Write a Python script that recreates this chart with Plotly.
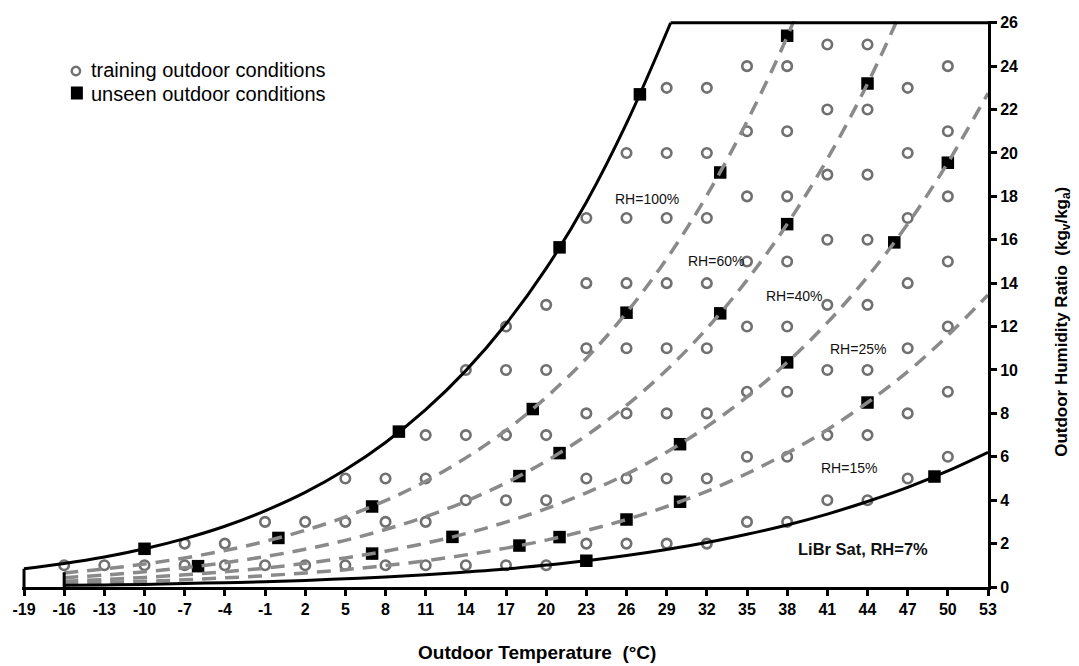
import plotly.graph_objects as go

# ---------------- data ----------------
# Envelope: saturation curve (RH=100%) and upper limit
t_sat = [-19, -16, -13, -10, -7, -4, -1, 2, 5, 8, 11, 14, 17, 20, 23, 26, 29.3]
w_sat = [0.84, 1.08, 1.38, 1.76, 2.23, 2.80, 3.51, 4.36, 5.40, 6.66, 8.17, 9.97,
         12.12, 14.68, 17.73, 21.36, 26.0]
t_top = [29.3, 53]
w_top = [26.0, 26.0]

# left-hand closing segments of the region
t_left = [-19, -19]
w_left = [0.0, 0.84]
t_left2 = [-16, -16]
w_left2 = [0.0, 0.68]

# iso-RH curves (sampled every 3 degC)
t_rh = [-16, -13, -10, -7, -4, -1, 2, 5, 8, 11, 14, 17, 20, 23, 26, 29, 32, 35,
        38, 41, 44, 47, 50, 53]
w_rh60 = [0.65, 0.83, 1.06, 1.34, 1.68, 2.10, 2.61, 3.23, 3.98, 4.87, 5.95, 7.22,
          8.74, 10.53, 12.64, 15.12, 18.04, 21.45, 25.36, 30.05]
w_rh40 = [0.43, 0.55, 0.70, 0.89, 1.12, 1.40, 1.74, 2.15, 2.65, 3.24, 3.95, 4.80,
          5.80, 6.98, 8.37, 10.00, 11.91, 14.14, 16.72, 19.72, 23.19, 27.2]
w_rh25 = [0.27, 0.34, 0.44, 0.56, 0.70, 0.87, 1.09, 1.34, 1.65, 2.02, 2.46, 2.99,
          3.61, 4.34, 5.20, 6.21, 7.39, 8.76, 10.35, 12.18, 14.29, 16.73, 19.55, 22.75]
w_rh15 = [0.16, 0.21, 0.26, 0.33, 0.42, 0.52, 0.65, 0.80, 0.99, 1.21, 1.48, 1.79,
          2.16, 2.60, 3.11, 3.71, 4.41, 5.23, 6.17, 7.25, 8.50, 9.92, 11.59, 13.46]
w_libr = [0.076, 0.097, 0.12, 0.16, 0.20, 0.24, 0.30, 0.38, 0.46, 0.56, 0.69, 0.83,
          1.01, 1.21, 1.45, 1.73, 2.05, 2.43, 2.86, 3.36, 3.94, 4.59, 5.35, 6.21]

# training outdoor conditions: humidity ratio -> temperatures
train_rows = {
    1: [-16, -13, -10, -7, -4, -1, 2, 5, 8, 11, 14, 17, 20],
    2: [-7, -4, 23, 26, 29, 32],
    3: [-1, 2, 5, 8, 11, 35, 38],
    4: [14, 17, 20, 41, 44],
    5: [5, 8, 11, 23, 26, 29, 32, 47],
    6: [35, 38, 50],
    7: [11, 14, 17, 20, 41, 44],
    8: [23, 26, 29, 32, 47],
    9: [35, 38, 50],
    10: [14, 17, 20, 41, 44],
    11: [23, 26, 29, 32, 47],
    12: [17, 35, 38, 50],
    13: [20, 41, 44],
    14: [23, 26, 29, 32, 47],
    15: [35, 38, 50],
    16: [41, 44],
    17: [23, 26, 29, 32, 47],
    18: [35, 38, 50],
    19: [41, 44],
    20: [26, 29, 32, 47],
    21: [35, 38, 50],
    22: [41, 44],
    23: [29, 32, 47],
    24: [35, 38, 50],
    25: [41, 44],
}
train_t = [t for w, ts in train_rows.items() for t in ts]
train_w = [w for w, ts in train_rows.items() for t in ts]

# unseen outdoor conditions
unseen_t = [-10, -6, 0, 7, 7, 9, 13, 18, 18, 19, 21, 21, 21, 23, 26, 26, 27, 30,
            30, 33, 33, 38, 38, 38, 44, 44, 46, 49, 50]
unseen_w = [1.76, 0.96, 2.26, 3.71, 1.54, 7.16, 2.31, 5.11, 1.91, 8.20, 15.65, 6.17,
            2.30, 1.21, 12.64, 3.11, 22.7, 6.58, 3.93, 19.1, 12.61, 25.4, 16.72,
            10.35, 23.2, 8.5, 15.88, 5.09, 19.55]

x_ticks = list(range(-19, 54, 3))
x_tick_text = [str(v) for v in x_ticks]
y_ticks = list(range(0, 27, 2))

rh_labels = ["RH=100%", "RH=60%", "RH=40%", "RH=25%", "RH=15%"]
rh_label_t = [27.5, 32.7, 38.5, 43.3, 42.6]
rh_label_w = [17.9, 15.0, 13.4, 10.97, 5.48]

legend_labels = ["training outdoor conditions", "unseen outdoor conditions"]

# ---------------- figure ----------------
FONT = "Liberation Sans, Arial, sans-serif"
GRAY_DASH = "#8a8a8a"
GRAY_MK = "#707070"

W, H = 1079, 666
L, R, T, B = 20, 91, 21, 79
pw, ph = W - L - R, H - T - B


def px2paper(px, py):
    return (px - L) / pw, 1 - (py - T) / ph


fig = go.Figure()

fig.add_trace(go.Scatter(x=train_t, y=train_w, mode="markers", name=legend_labels[0],
                         marker=dict(symbol="circle-open", size=9.5, color=GRAY_MK,
                                     line=dict(width=2.6, color=GRAY_MK)),
                         cliponaxis=False, showlegend=False))
fig.add_trace(go.Scatter(x=unseen_t, y=unseen_w, mode="markers", name=legend_labels[1],
                         marker=dict(symbol="square", size=12.5, color="black"),
                         cliponaxis=False, showlegend=False))

for w in [w_rh60, w_rh40, w_rh25, w_rh15]:
    fig.add_trace(go.Scatter(x=t_rh[:len(w)], y=w, mode="lines", showlegend=False,
                             line=dict(color=GRAY_DASH, width=3.5, dash="14px,9px",
                                       shape="spline", smoothing=1)))

for tx, wy in [(t_sat, w_sat), (t_rh, w_libr)]:
    fig.add_trace(go.Scatter(x=tx, y=wy, mode="lines", showlegend=False,
                             line=dict(color="black", width=3, shape="spline", smoothing=1)))
for tx, wy in [(t_top, w_top), (t_left, w_left), (t_left2, w_left2)]:
    fig.add_trace(go.Scatter(x=tx, y=wy, mode="lines", showlegend=False,
                             line=dict(color="black", width=3)))

annotations = []
for txt, tx, wy in zip(rh_labels, rh_label_t, rh_label_w):
    annotations.append(dict(x=tx, y=wy, xref="x", yref="y", text=txt, showarrow=False,
                            xanchor="center", yanchor="middle",
                            font=dict(family=FONT, size=14, color="#111")))
annotations.append(dict(x=43.7, y=1.75, xref="x", yref="y", text="<b>LiBr Sat, RH=7%</b>",
                        showarrow=False, xanchor="center", yanchor="middle",
                        font=dict(family=FONT, size=16.5, color="#111")))


def pix_note(px, py, text, size, anchor="center", angle=0):
    x, y = px2paper(px, py)
    return dict(x=x, y=y, xref="paper", yref="paper", text=text, showarrow=False,
                xanchor=anchor, yanchor="middle", textangle=angle,
                font=dict(family=FONT, size=size, color="black"))


annotations.append(pix_note(536, 652, "<b>Outdoor Temperature  (°C)</b>", 19))
annotations.append(pix_note(87, 70, legend_labels[0], 20, anchor="left"))
annotations.append(pix_note(87, 93.5, legend_labels[1], 20, anchor="left"))
annotations.append(pix_note(1063, 322, "<b>Outdoor Humidity Ratio  (kg<sub>v</sub>/kg<sub>a</sub>)</b>",
                            17, angle=-90))

cx, cy = px2paper(74, 71)
sx, sy = px2paper(75, 93)
shapes = [
    dict(type="circle", xref="paper", yref="paper", xsizemode="pixel", ysizemode="pixel",
         xanchor=cx, yanchor=cy, x0=-4.2, x1=4.2, y0=-4.2, y1=4.2,
         line=dict(color=GRAY_MK, width=2.4)),
    dict(type="rect", xref="paper", yref="paper", xsizemode="pixel", ysizemode="pixel",
         xanchor=sx, yanchor=sy, x0=-6, x1=6, y0=-6.5, y1=6.5,
         line=dict(width=0), fillcolor="black"),
]

fig.update_layout(
    width=W, height=H,
    margin=dict(l=L, r=R, t=T, b=B),
    paper_bgcolor="white", plot_bgcolor="white",
    showlegend=False,
    annotations=annotations,
    shapes=shapes,
    xaxis=dict(range=[-19.15, 53], tickmode="array", tickvals=x_ticks, ticktext=x_tick_text,
               showgrid=False, zeroline=False, showline=True, linecolor="black", linewidth=3,
               ticks="outside", ticklen=6, tickwidth=3, tickcolor="black",
               tickfont=dict(family=FONT, size=16, color="black", weight="bold")),
    yaxis=dict(range=[0, 26.08], side="right", tickmode="array", tickvals=y_ticks,
               showgrid=False, zeroline=False, showline=True, linecolor="black", linewidth=3,
               ticks="outside", ticklen=6, tickwidth=3, tickcolor="black",
               tickfont=dict(family=FONT, size=16, color="black", weight="bold")),
)

fig.write_html("out.html")
